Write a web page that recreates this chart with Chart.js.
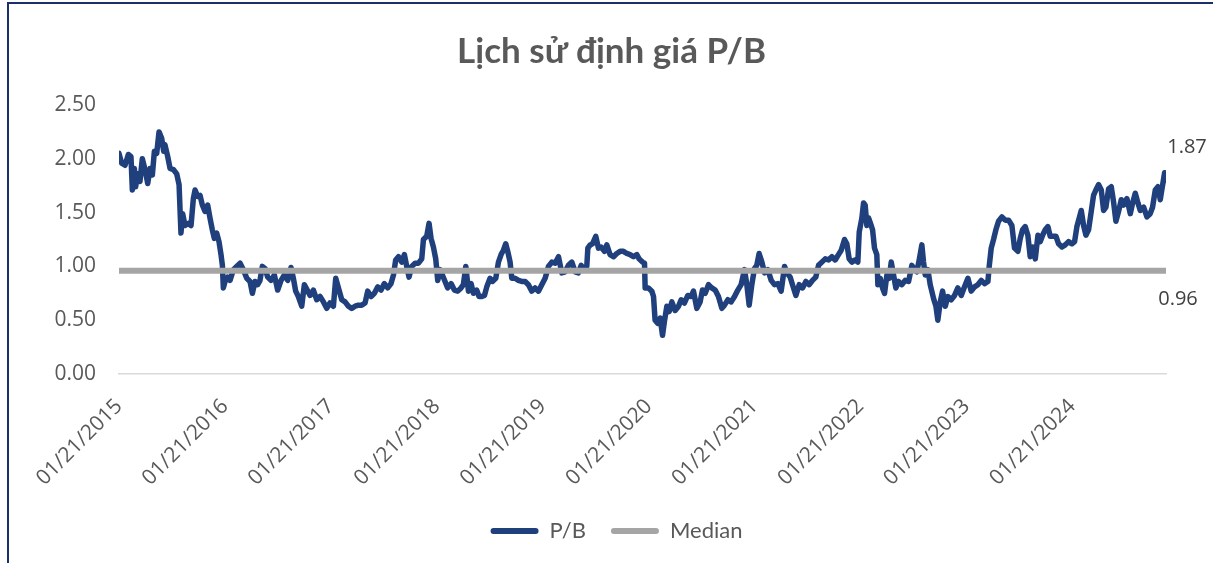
<!DOCTYPE html>
<html><head><meta charset="utf-8">
<script src="https://cdn.jsdelivr.net/npm/chart.js@4.4.1/dist/chart.umd.min.js"></script>
<style>
html,body{margin:0;padding:0;background:#fff;overflow:hidden;}
#wrap{position:relative;width:1213px;height:563px;}
#frame{position:absolute;left:7px;top:2px;right:0;bottom:0;border-left:2px solid #1b2f6b;border-top:2px solid #1b2f6b;pointer-events:none;}
canvas{position:absolute;left:0;top:0;}
</style></head><body>
<div id="wrap"><canvas id="c" width="1213" height="563" style="width:1213px;height:563px"></canvas><div id="frame"></div></div>
<script>
const chartTitle = 'Lịch sử định giá P/B';
const seriesNames = ['P/B', 'Median'];
const xTickLabels = ['01/21/2015','01/21/2016','01/21/2017','01/21/2018','01/21/2019',
                     '01/21/2020','01/21/2021','01/21/2022','01/21/2023','01/21/2024'];
const yTickValues = [0, 0.5, 1, 1.5, 2, 2.5];
// time of each observation, in years after 01/21/2015
const tYears = [
 0.000,0.025,0.057,0.088,0.113,0.126,0.145,0.157,0.176,0.198,0.220,0.246,0.271,0.293,0.315,0.334,0.356,0.378,0.403,0.422,
 0.434,0.460,0.482,0.513,0.545,0.567,0.585,0.601,0.623,0.655,0.680,0.702,0.718,0.743,0.765,0.787,0.812,0.837,0.859,0.881,
 0.900,0.922,0.944,0.963,0.976,0.985,1.001,1.026,1.048,1.080,1.111,1.143,1.174,1.206,1.237,1.259,1.284,1.309,1.331,1.353,1.379,
 1.404,1.435,1.467,1.498,1.530,1.561,1.593,1.624,1.646,1.668,1.693,1.725,1.750,1.782,1.804,1.835,1.867,1.898,1.930,1.961,
 1.992,2.024,2.046,2.077,2.103,2.134,2.166,2.197,2.229,2.260,2.291,2.323,2.348,2.380,2.411,2.443,2.474,2.505,2.537,2.568,
 2.591,2.612,2.638,2.669,2.694,2.716,2.738,2.764,
 2.795,2.827,2.858,2.874,2.905,2.927,2.946,2.968,2.990,3.009,3.031,3.053,3.078,3.103,3.135,3.166,3.198,3.229,3.251,3.274,
 3.299,3.324,3.346,3.377,3.399,3.425,3.450,3.472,3.503,3.525,3.557,3.582,3.607,3.629,3.651,3.670,3.692,3.708,3.739,3.771,
 3.802,3.834,3.865,3.897,3.928,3.960,3.991,4.023,4.054,4.086,4.117,4.149,4.180,
 4.212,4.243,4.275,4.306,4.337,4.363,4.385,4.416,4.426,4.448,4.470,4.501,4.526,4.551,4.583,4.605,4.636,4.668,4.699,4.731,
 4.762,4.794,4.825,4.857,4.888,4.910,4.942,4.961,4.967,4.998,5.030,5.046,5.061,5.087,5.109,5.131,5.149,5.172,5.194,5.219,
 5.250,5.282,5.307,5.338,5.370,5.401,5.423,5.455,5.486,5.508,5.534,5.565,5.596,
 5.628,5.659,5.691,5.716,5.748,5.779,5.811,5.842,5.873,5.905,5.927,5.949,5.974,5.999,6.021,6.043,6.069,6.094,6.125,6.157,
 6.188,6.220,6.251,6.283,6.305,6.336,6.358,6.390,6.421,6.453,6.484,6.516,6.547,6.578,6.604,6.635,6.667,6.698,6.730,6.761,
 6.792,6.818,6.849,6.871,6.893,6.918,6.950,6.975,6.988,7.013,7.029,
 7.044,7.060,7.076,7.101,7.114,7.132,7.154,7.164,7.186,7.208,7.227,7.249,7.271,7.290,7.312,7.334,7.359,7.391,7.422,7.454,
 7.485,7.510,7.532,7.554,7.579,7.595,7.611,7.636,7.658,7.690,7.712,7.730,7.753,7.775,7.800,7.825,7.856,7.888,7.919,7.951,
 7.982,8.014,8.045,8.077,8.108,8.140,8.171,8.203,8.215,8.234,8.256,8.278,8.303,8.335,8.366,8.398,8.429,8.454,
 8.486,8.508,8.530,8.555,8.580,8.602,8.624,8.650,8.675,8.697,8.719,8.744,8.769,8.791,8.813,8.845,8.870,8.902,8.933,8.964,
 8.996,9.021,9.043,9.065,9.084,9.106,9.128,9.153,9.178,9.200,9.222,9.248,9.273,9.295,9.317,9.342,9.367,9.389,9.411,9.436,
 9.462,9.484,9.515,9.547,9.569,9.594,9.619,9.641,9.673,9.704,9.735,9.757,9.783,9.808,9.830,9.846,9.871,9.884
];
const pbValues = [
 2.05,1.96,1.94,2.04,2.02,1.71,1.91,1.74,1.86,1.79,2.00,1.90,1.77,1.91,1.85,2.07,2.05,2.25,2.19,2.07,
 2.13,2.02,1.91,1.90,1.86,1.76,1.31,1.49,1.38,1.40,1.38,1.63,1.71,1.65,1.66,1.57,1.51,1.57,1.45,1.34,
 1.26,1.31,1.23,1.11,1.01,0.80,0.86,0.90,0.87,0.97,1.00,1.03,0.97,0.89,0.86,0.75,0.86,0.83,0.87,1.00,0.98,
 0.90,0.87,0.92,0.78,0.87,0.92,0.87,0.99,0.89,0.77,0.72,0.63,0.83,0.77,0.73,0.78,0.69,0.72,0.67,0.61,
 0.66,0.63,0.89,0.78,0.69,0.67,0.63,0.61,0.63,0.64,0.64,0.66,0.77,0.72,0.75,0.81,0.78,0.84,0.80,0.84,
 0.92,1.06,1.09,1.04,1.11,1.00,0.90,1.00,
 1.03,1.03,1.07,1.25,1.28,1.40,1.26,1.18,1.07,0.87,0.97,0.92,0.86,0.80,0.84,0.78,0.77,0.80,0.83,1.00,
 0.77,0.84,0.75,0.78,0.72,0.72,0.73,0.81,0.89,0.86,0.89,1.04,1.11,1.15,1.21,1.14,1.04,0.89,0.89,0.87,
 0.86,0.86,0.83,0.77,0.80,0.77,0.83,0.89,1.00,1.04,1.03,1.09,0.94,
 0.95,1.01,1.04,0.95,0.94,1.01,0.98,1.00,1.17,1.20,1.21,1.28,1.17,1.18,1.14,1.20,1.11,1.09,1.12,1.14,
 1.14,1.12,1.11,1.09,1.11,1.07,1.04,1.03,0.80,0.80,0.77,0.72,0.50,0.47,0.52,0.36,0.49,0.63,0.58,0.67,
 0.59,0.63,0.69,0.66,0.73,0.72,0.77,0.61,0.67,0.78,0.75,0.83,0.80,
 0.78,0.72,0.61,0.64,0.69,0.67,0.72,0.78,0.83,0.97,0.83,0.64,0.83,0.98,1.01,1.12,1.04,0.94,0.97,0.87,
 0.83,0.84,0.77,1.00,0.94,0.90,0.83,0.73,0.83,0.80,0.86,0.83,0.87,0.90,1.01,1.04,1.07,1.06,1.09,1.06,
 1.11,1.15,1.25,1.21,1.07,1.04,1.06,1.04,1.32,1.45,1.59,
 1.57,1.38,1.45,1.38,1.34,1.17,1.11,0.83,0.89,0.80,0.75,0.92,0.89,1.04,0.92,0.80,0.86,0.83,0.87,0.86,
 1.01,0.97,0.95,1.06,1.20,1.04,0.92,0.97,0.83,0.70,0.63,0.50,0.67,0.77,0.63,0.72,0.69,0.73,0.80,0.73,
 0.81,0.89,0.77,0.81,0.83,0.87,0.84,0.86,1.00,1.17,1.25,1.34,1.42,1.46,1.43,1.43,1.38,1.17,
 1.14,1.26,1.34,1.37,1.29,1.09,1.18,1.07,1.29,1.23,1.29,1.34,1.37,1.28,1.28,1.28,1.21,1.18,1.20,1.23,
 1.21,1.23,1.37,1.45,1.52,1.38,1.29,1.34,1.51,1.66,1.71,1.76,1.71,1.52,1.55,1.72,1.74,1.60,1.42,1.51,
 1.62,1.57,1.63,1.49,1.59,1.68,1.59,1.52,1.55,1.46,1.49,1.55,1.71,1.74,1.62,1.72,1.87,1.80
];
const medianValue = 0.96;
const latestPB = 1.87;

const NAVY = '#1F407C', GREY = '#A5A5A5', TXT = '#595959';
const lastT = tYears[tYears.length - 1];
const pbPoints = tYears.map((t, i) => ({x: t, y: pbValues[i]}));
const medianPoints = [{x: tYears[0], y: medianValue}, {x: lastT, y: medianValue}];

const endLabels = {
  id: 'endLabels',
  afterDatasetsDraw(chart) {
    const {ctx, scales: {x, y}} = chart;
    const px = x.getPixelForValue(lastT);
    ctx.save();
    ctx.font = '20px "Open Sans"';
    ctx.fillStyle = '#404040';
    ctx.textAlign = 'center';
    ctx.textBaseline = 'middle';
    ctx.fillText(latestPB.toFixed(2), px + 21, y.getPixelForValue(latestPB) - 25);
    ctx.fillText(medianValue.toFixed(2), px + 12, y.getPixelForValue(medianValue) + 29);
    ctx.restore();
  }
};

// centre the title and legend on the same point as the reference (slightly right of the canvas middle)
const shiftBoxes = {
  id: 'shiftBoxes',
  afterLayout(chart) {
    if (chart.legend) { chart.legend.left += 33.5; chart.legend.right += 33.5; }
    if (chart.titleBlock) { chart.titleBlock.left += 28.5; chart.titleBlock.right += 28.5; }
  }
};

new Chart(document.getElementById('c'), {
  type: 'line',
  data: {
    datasets: [
      {label: seriesNames[1], data: medianPoints, borderColor: GREY, backgroundColor: GREY,
       borderWidth: 6, borderCapStyle: 'round', pointRadius: 0, tension: 0},
      {label: seriesNames[0], data: pbPoints, borderColor: NAVY, backgroundColor: NAVY,
       borderWidth: 5.5, borderJoinStyle: 'round', borderCapStyle: 'round', pointRadius: 0, tension: 0}
    ]
  },
  options: {
    responsive: false,
    devicePixelRatio: 1,
    animation: false,
    layout: {padding: {left: 0, right: 47, top: 0, bottom: 11}},
    plugins: {
      title: {display: true, text: chartTitle, color: TXT,
              font: {family: 'Lato', size: 35, weight: 'bold', lineHeight: 1.2},
              padding: {top: 31, bottom: 32}},
      legend: {
        position: 'bottom',
        labels: {
          boxWidth: 48, boxHeight: 6, padding: 25, color: TXT,
          font: {family: 'Lato', size: 22},
          useBorderRadius: true, borderRadius: 3,
          sort: (a, b) => b.datasetIndex - a.datasetIndex,
          generateLabels(chart) {
            const items = Chart.defaults.plugins.legend.labels.generateLabels(chart);
            items.forEach(it => { it.lineWidth = 0; it.fillStyle = it.strokeStyle; });
            return items;
          }
        }
      },
      tooltip: {enabled: false}
    },
    scales: {
      x: {
        type: 'linear', min: 0, max: lastT,
        afterBuildTicks(scale) { scale.ticks = xTickLabels.map((_, i) => ({value: i})); },
        afterFit(scale) { scale.height = 121; },
        grid: {display: false, drawTicks: false},
        border: {display: true, color: '#D9D9D9', width: 1.5},
        ticks: {autoSkip: false, minRotation: 45, maxRotation: 45, padding: 20, color: TXT,
                font: {family: 'Open Sans', size: 21},
                callback: v => xTickLabels[Math.round(v)]}
      },
      y: {
        min: 0, max: 2.5,
        afterBuildTicks(scale) { scale.ticks = yTickValues.map(v => ({value: v})); },
        afterFit(scale) { scale.width = 119; },
        grid: {display: false, drawTicks: false},
        border: {display: false},
        ticks: {padding: 23, color: TXT, font: {family: 'Open Sans', size: 21},
                callback: v => Number(v).toFixed(2)}
      }
    }
  },
  plugins: [endLabels, shiftBoxes]
});
</script>
</body></html>
